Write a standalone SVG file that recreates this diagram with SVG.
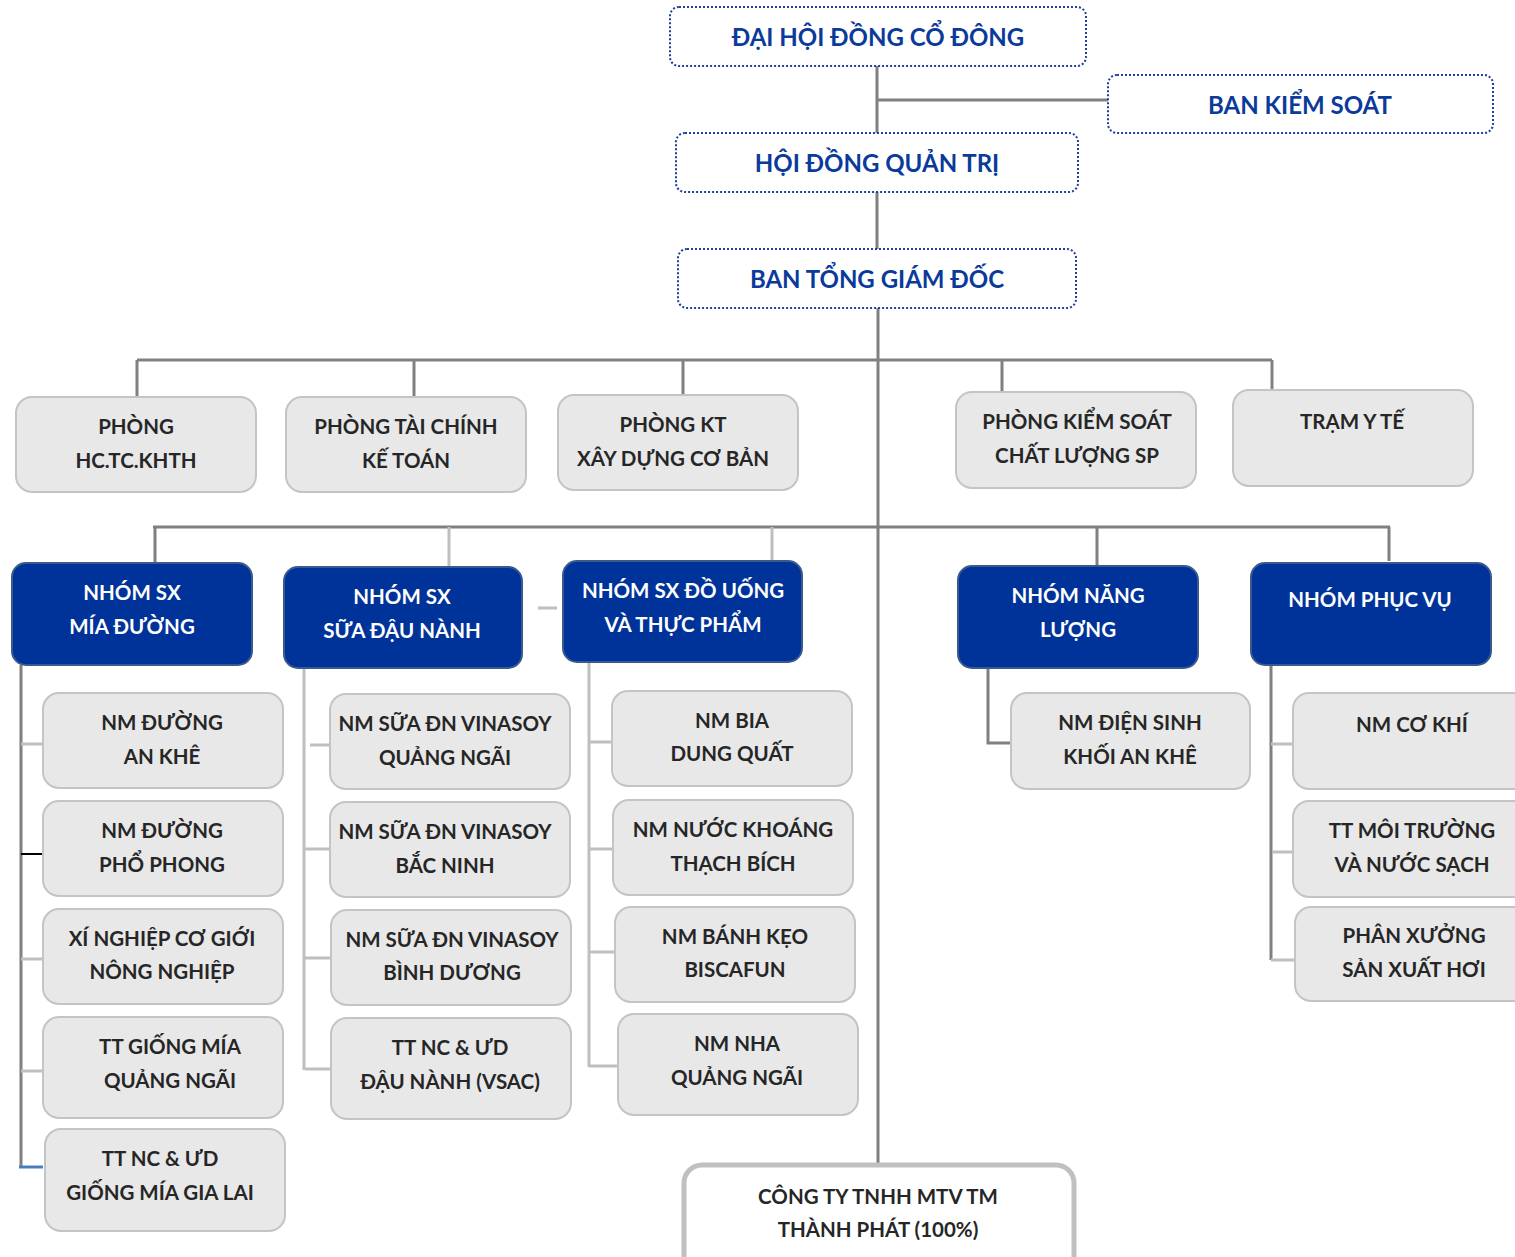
<svg xmlns="http://www.w3.org/2000/svg" width="1515" height="1257" viewBox="0 0 1515 1257">
<style>
.top{fill:#ffffff;stroke:#1f3f9f;stroke-width:2;stroke-dasharray:2 2}
.tt{font-family:Lato,"Open Sans",sans-serif;font-weight:bold;font-size:24px;fill:#0a3a9a;text-anchor:middle}
.g{fill:#e8e8e8;stroke:#c4c4c4;stroke-width:2}
.gt{font-family:Lato,"Open Sans",sans-serif;font-weight:bold;font-size:20.5px;fill:#262626;text-anchor:middle}
.b{fill:#003399;stroke:#3a5a8c;stroke-width:2}
.bt{font-family:Lato,"Open Sans",sans-serif;font-weight:bold;font-size:20.5px;fill:#ffffff;text-anchor:middle}
.d{stroke:#808080;stroke-width:3;fill:none}
.l{stroke:#bfbfbf;stroke-width:3;fill:none}
</style>
<g id="connectors">
<path class="d" d="M877 66V133M877 100H1108M877 192V249M878 308V1163"/>
<path class="d" d="M137 360H1272M137 360V397M414 360V397M683 360V395M1002 360V392M1272 360V390"/>
<path class="d" d="M153 527H1390M155 527V563M1097 527V566M1389 527V561"/>
<path class="l" d="M449 527V566M772 527V560M538 608H557"/>
<path class="d" d="M21 665V1167"/>
<path class="l" d="M21 744H43M21 959H43M21 1071H43"/>
<path stroke="#000000" stroke-width="2" d="M21 854H43"/>
<path stroke="#4a7cc0" stroke-width="3" d="M19 1167H43"/>
<path class="l" d="M304 668V1070M310 745H333M305 849H330M305 958H331M305 1069H331"/>
<path class="l" d="M589 662V1067M589 742H612M589 849H613M589 952H616M589 1066H618M613 753H632"/>
<path class="d" d="M988 668V743H1011"/>
<path class="d" d="M1271 666V960"/>
<path class="l" d="M1271 744H1293M1273 852H1293M1271 960H1295"/>
</g>
<g id="dhdcd"><rect class="top" x="670" y="7" width="416" height="59" rx="9"/><text class="tt" x="878" y="46">ĐẠI HỘI ĐỒNG CỔ ĐÔNG</text></g>
<g id="bks"><rect class="top" x="1108" y="75" width="385" height="58" rx="9"/><text class="tt" x="1300" y="114">BAN KIỂM SOÁT</text></g>
<g id="hdqt"><rect class="top" x="676" y="133" width="402" height="59" rx="9"/><text class="tt" x="877" y="172">HỘI ĐỒNG QUẢN TRỊ</text></g>
<g id="btgd"><rect class="top" x="678" y="249" width="398" height="59" rx="9"/><text class="tt" x="877" y="288">BAN TỔNG GIÁM ĐỐC</text></g>

<g id="p1"><rect class="g" x="16" y="397" width="240" height="95" rx="16"/><text class="gt" x="136" y="434">PHÒNG</text><text class="gt" x="136" y="468">HC.TC.KHTH</text></g>
<g id="p2"><rect class="g" x="286" y="397" width="240" height="95" rx="16"/><text class="gt" x="406" y="434">PHÒNG TÀI CHÍNH</text><text class="gt" x="406" y="468">KẾ TOÁN</text></g>
<g id="p3"><rect class="g" x="558" y="395" width="240" height="95" rx="16"/><text class="gt" x="673" y="432">PHÒNG KT</text><text class="gt" x="673" y="466">XÂY DỰNG CƠ BẢN</text></g>
<g id="p4"><rect class="g" x="956" y="392" width="240" height="96" rx="16"/><text class="gt" x="1077" y="429">PHÒNG KIỂM SOÁT</text><text class="gt" x="1077" y="463">CHẤT LƯỢNG SP</text></g>
<g id="p5"><rect class="g" x="1233" y="390" width="240" height="96" rx="16"/><text class="gt" x="1352" y="429">TRẠM Y TẾ</text></g>

<g id="n1"><rect class="b" x="12" y="563" width="240" height="102" rx="14"/><text class="bt" x="132" y="600">NHÓM SX</text><text class="bt" x="132" y="634">MÍA ĐƯỜNG</text></g>
<g id="n2"><rect class="b" x="284" y="567" width="238" height="101" rx="14" stroke="#c4c4c4"/><text class="bt" x="402" y="604">NHÓM SX</text><text class="bt" x="402" y="638">SỮA ĐẬU NÀNH</text></g>
<g id="n3"><rect class="b" x="563" y="561" width="239" height="101" rx="14" stroke="#c4c4c4"/><text class="bt" x="683" y="598">NHÓM SX ĐỒ UỐNG</text><text class="bt" x="683" y="632">VÀ THỰC PHẨM</text></g>
<g id="n4"><rect class="b" x="958" y="566" width="240" height="102" rx="14"/><text class="bt" x="1078" y="603">NHÓM NĂNG</text><text class="bt" x="1078" y="637">LƯỢNG</text></g>
<g id="n5"><rect class="b" x="1251" y="563" width="240" height="102" rx="14" stroke-width="4"/><text class="bt" x="1370" y="607">NHÓM PHỤC VỤ</text></g>

<g id="a1"><rect class="g" x="43" y="693" width="240" height="95" rx="16"/><text class="gt" x="162" y="730">NM ĐƯỜNG</text><text class="gt" x="162" y="764">AN KHÊ</text></g>
<g id="a2"><rect class="g" x="43" y="801" width="240" height="95" rx="16"/><text class="gt" x="162" y="838">NM ĐƯỜNG</text><text class="gt" x="162" y="872">PHỔ PHONG</text></g>
<g id="a3"><rect class="g" x="43" y="909" width="240" height="95" rx="16"/><text class="gt" x="162" y="946">XÍ NGHIỆP CƠ GIỚI</text><text class="gt" x="162" y="979">NÔNG NGHIỆP</text></g>
<g id="a4"><rect class="g" x="43" y="1017" width="240" height="101" rx="16"/><text class="gt" x="170" y="1054">TT GIỐNG MÍA</text><text class="gt" x="170" y="1088">QUẢNG NGÃI</text></g>
<g id="a5"><rect class="g" x="45" y="1129" width="240" height="102" rx="16"/><text class="gt" x="160" y="1166">TT NC &amp; ƯD</text><text class="gt" x="160" y="1200">GIỐNG MÍA GIA LAI</text></g>

<g id="s1"><rect class="g" x="330" y="694" width="240" height="95" rx="16"/><text class="gt" x="445" y="731">NM SỮA ĐN VINASOY</text><text class="gt" x="445" y="765">QUẢNG NGÃI</text></g>
<g id="s2"><rect class="g" x="330" y="802" width="240" height="95" rx="16"/><text class="gt" x="445" y="839">NM SỮA ĐN VINASOY</text><text class="gt" x="445" y="873">BẮC NINH</text></g>
<g id="s3"><rect class="g" x="331" y="910" width="240" height="95" rx="16"/><text class="gt" x="452" y="947">NM SỮA ĐN VINASOY</text><text class="gt" x="452" y="980">BÌNH DƯƠNG</text></g>
<g id="s4"><rect class="g" x="331" y="1018" width="240" height="101" rx="16"/><text class="gt" x="450" y="1055">TT NC &amp; ƯD</text><text class="gt" x="450" y="1089">ĐẬU NÀNH (VSAC)</text></g>

<g id="d1"><rect class="g" x="612" y="691" width="240" height="95" rx="16"/><text class="gt" x="732" y="728">NM BIA</text><text class="gt" x="732" y="761">DUNG QUẤT</text></g>
<g id="d2"><rect class="g" x="613" y="800" width="240" height="95" rx="16"/><text class="gt" x="733" y="837">NM NƯỚC KHOÁNG</text><text class="gt" x="733" y="871">THẠCH BÍCH</text></g>
<g id="d3"><rect class="g" x="615" y="907" width="240" height="95" rx="16"/><text class="gt" x="735" y="944">NM BÁNH KẸO</text><text class="gt" x="735" y="977">BISCAFUN</text></g>
<g id="d4"><rect class="g" x="618" y="1014" width="240" height="101" rx="16"/><text class="gt" x="737" y="1051">NM NHA</text><text class="gt" x="737" y="1085">QUẢNG NGÃI</text></g>

<g id="e1"><rect class="g" x="1011" y="693" width="239" height="96" rx="16"/><text class="gt" x="1130" y="730">NM ĐIỆN SINH</text><text class="gt" x="1130" y="764">KHỐI AN KHÊ</text></g>

<g id="f1"><rect class="g" x="1293" y="693" width="240" height="96" rx="16"/><text class="gt" x="1412" y="732">NM CƠ KHÍ</text></g>
<g id="f2"><rect class="g" x="1293" y="801" width="240" height="96" rx="16"/><text class="gt" x="1412" y="838">TT MÔI TRƯỜNG</text><text class="gt" x="1412" y="872">VÀ NƯỚC SẠCH</text></g>
<g id="f3"><rect class="g" x="1295" y="907" width="240" height="94" rx="16"/><text class="gt" x="1414" y="943">PHÂN XƯỞNG</text><text class="gt" x="1414" y="977">SẢN XUẤT HƠI</text></g>

<g id="ct"><rect x="684" y="1165" width="390" height="110" rx="18" fill="#ffffff" stroke="#c0c0c0" stroke-width="5"/><text class="gt" x="878" y="1204">CÔNG TY TNHH MTV TM</text><text class="gt" x="878" y="1237">THÀNH PHÁT (100%)</text></g>
</svg>
